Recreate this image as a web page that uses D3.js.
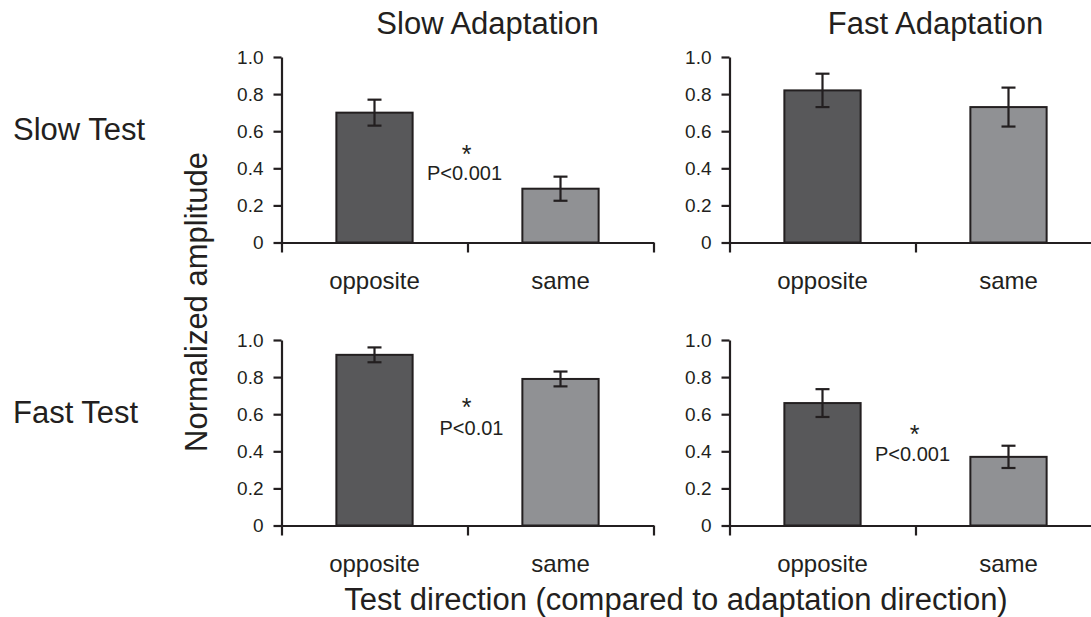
<!DOCTYPE html>
<html>
<head>
<meta charset="utf-8">
<style>
body { margin: 0; background: #fff; }
svg text { font-family: "Liberation Sans", Arial, Helvetica, sans-serif; fill: #231f20; }
</style>
</head>
<body>
<div id="chart"></div>
<script src="https://cdn.jsdelivr.net/npm/d3@7"></script>
<script>

// data
var categories = ["opposite", "same"]
var adaptations = ["Slow Adaptation", "Fast Adaptation"]
var tests = ["Slow Test", "Fast Test"]
// panels in order: slow test/slow adapt, slow test/fast adapt, fast test/slow adapt, fast test/fast adapt
var means  = [[0.70, 0.29], [0.82, 0.73], [0.92, 0.79], [0.66, 0.37]]
var errors = [[0.07, 0.065], [0.09, 0.105], [0.04, 0.04], [0.075, 0.06]]
var sigLabels = ["P<0.001", "", "P<0.01", "P<0.001"]
var yTicks = [0, 0.2, 0.4, 0.6, 0.8, 1.0]
var yTickLabels = ["0", "0.2", "0.4", "0.6", "0.8", "1.0"]

var W = 1091, H = 617
var ink = "#231f20"
var fills = ["#58585a", "#909194"]

// layout
var panelW = 372, panelH = 185.5
var left0 = 281.5, top0 = 57
var dx = 448, dy = 283
// where the star / p-value sit (in data units) for each panel
var starAt = [0.50, 0, 0.66, 0.515]
var pAt = [0.335, 0, 0.49, 0.35]

var svg = d3.select("#chart").append("svg")
    .attr("width", W).attr("height", H)

for (var i = 0; i < 4; i++) {
    var col = i % 2, row = Math.floor(i / 2)
    var g = svg.append("g")
        .attr("transform", "translate(" + (left0 + col * dx) + "," + (top0 + row * dy) + ")")

    var x = d3.scaleBand().domain(categories).range([0, panelW])
        .paddingInner(0.59).paddingOuter(0.295)
    var xEdge = d3.scaleLinear().domain([0, 2]).range([0, panelW])
    var y = d3.scaleLinear().domain([0, 1]).range([panelH, 0])

    var rows = categories.map(function(c, k) {
        return {cat: c, v: means[i][k], e: errors[i][k], k: k}
    })

    // bars
    g.selectAll("rect.bar").data(rows).enter().append("rect")
        .attr("class", "bar")
        .attr("x", d => x(d.cat))
        .attr("y", d => y(d.v))
        .attr("width", x.bandwidth())
        .attr("height", d => y(0) - y(d.v))
        .style("fill", d => fills[d.k])
        .style("stroke", ink)
        .style("stroke-width", 2)

    // error bars
    var eb = g.selectAll("g.err").data(rows).enter().append("g").attr("class", "err")
        .attr("transform", d => "translate(" + (x(d.cat) + x.bandwidth() / 2) + ",0)")
    eb.append("line")
        .attr("y1", d => y(d.v + d.e)).attr("y2", d => y(d.v - d.e))
    eb.append("line")
        .attr("x1", -7).attr("x2", 7)
        .attr("y1", d => y(d.v + d.e)).attr("y2", d => y(d.v + d.e))
    eb.append("line")
        .attr("x1", -7).attr("x2", 7)
        .attr("y1", d => y(d.v - d.e)).attr("y2", d => y(d.v - d.e))
    eb.selectAll("line").style("stroke", ink).style("stroke-width", 2.2)

    // y axis
    var yAxis = g.append("g")
        .call(d3.axisLeft(y).tickValues(yTicks).tickSize(8).tickSizeOuter(0)
            .tickPadding(10).tickFormat((d, k) => yTickLabels[k]))
    yAxis.selectAll("text").style("font-size", "19px").style("fill", ink)

    // x axis: ticks at category edges
    var xAxis = g.append("g")
        .attr("transform", "translate(0," + panelH + ")")
        .call(d3.axisBottom(xEdge).tickValues([0, 1, 2]).tickSize(10).tickSizeOuter(0).tickFormat(""))

    svg.selectAll("path.domain, .tick line")
        .style("stroke", ink).style("stroke-width", 2.2)

    // category labels
    g.selectAll("text.cat").data(categories).enter().append("text")
        .attr("class", "cat")
        .attr("x", d => x(d) + x.bandwidth() / 2)
        .attr("y", panelH + 46)
        .attr("text-anchor", "middle")
        .style("font-size", "24px")
        .text(d => d)

    // significance
    if (sigLabels[i] != "") {
        g.append("text")
            .attr("x", xEdge(1) - 1)
            .attr("y", y(starAt[i]) + 13)
            .attr("text-anchor", "middle")
            .style("font-size", "25px")
            .text("*")
        g.append("text")
            .attr("x", xEdge(1) + (i == 2 ? 4 : -3))
            .attr("y", y(pAt[i]))
            .attr("text-anchor", "middle")
            .style("font-size", "20px")
            .text(sigLabels[i])
    }
}

// column titles
svg.selectAll("text.coltitle").data(adaptations).enter().append("text")
    .attr("class", "coltitle")
    .attr("x", (d, k) => 487.5 + k * dx)
    .attr("y", 34)
    .attr("text-anchor", "middle")
    .style("font-size", "31px")
    .text(d => d)

// row titles
svg.selectAll("text.rowtitle").data(tests).enter().append("text")
    .attr("class", "rowtitle")
    .attr("x", 13)
    .attr("y", (d, k) => 140 + k * dy)
    .style("font-size", "31px")
    .text(d => d)

// axis titles
svg.append("text")
    .attr("transform", "translate(207,302) rotate(-90)")
    .attr("text-anchor", "middle")
    .style("font-size", "31px")
    .text("Normalized amplitude")

svg.append("text")
    .attr("x", 676)
    .attr("y", 610)
    .attr("text-anchor", "middle")
    .style("font-size", "31px")
    .text("Test direction (compared to adaptation direction)")

</script>
</body>
</html>
